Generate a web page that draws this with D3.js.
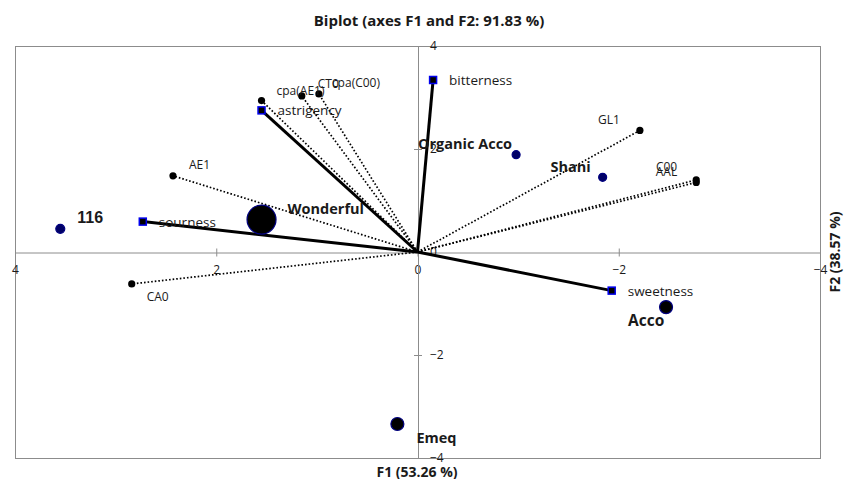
<!DOCTYPE html>
<html>
<head>
<meta charset="utf-8">
<script src="https://cdn.jsdelivr.net/npm/d3@7"></script>
<style>
  html, body { margin: 0; padding: 0; background: #fff; }
  svg { display: block; }
  text { font-family: "Open Sans", "Noto Sans", sans-serif; fill: #1a1a1a; }
</style>
</head>
<body>
<svg id="chart" width="851" height="479"></svg>
<script>
// Biplot of PCA scores: F1 (53.26 %) vs F2 (38.57 %)
const titleText = "Biplot (axes F1 and F2: 91.83 %)";
const xTitle = "F1 (53.26 %)";
const yTitle = "F2 (38.57 %)";
const tickValues = [4, 2, 0, -2, -4];

// Observations (cultivars)
const obsNames = ["116", "Wonderful", "Organic Acco", "Shani", "Acco", "Emeq"];
const obsF1 = [3.55, 1.55, -0.98, -1.84, -2.47, 0.20];
const obsF2 = [0.45, 0.63, 1.89, 1.45, -1.07, -3.34];

// Active variables (sensory attributes)
const varNames = ["bitterness", "astrigency", "sourness", "sweetness"];
const varF1 = [-0.155, 1.55, 2.73, -1.93];
const varF2 = [3.34, 2.75, 0.59, -0.75];

// Supplementary variables
const supNames = ["cpa(AE1)", "CT0", "cpa(C00)", "AE1", "GL1", "C00", "AAL", "CA0"];
const supF1 = [1.55, 1.15, 0.98, 2.43, -2.21, -2.77, -2.77, 2.84];
const supF2 = [2.94, 3.03, 3.07, 1.48, 2.36, 1.40, 1.35, -0.62];

// Marker radii and label placement
const obsStyle = {
  "116":          { r: 4.5, fill: "#000066", size: 16, font: "'Liberation Sans', Arial, sans-serif", dx: 17, dy: -11, anchor: "start" },
  "Wonderful":    { r: 14.5, fill: "#000", size: 14.5, dx: 26, dy: -11, anchor: "start" },
  "Organic Acco": { r: 4, fill: "#000066", size: 14.5, dx: -4, dy: -11, anchor: "end" },
  "Shani":        { r: 4, fill: "#000066", size: 14.5, dx: -12, dy: -11, anchor: "end" },
  "Acco":         { r: 6.5, fill: "#000", size: 15.5, dx: -38, dy: 13, anchor: "start" },
  "Emeq":         { r: 6.5, fill: "#000", size: 14.5, dx: 19, dy: 13, anchor: "start" }
};
const supLabel = {
  "cpa(AE1)": { dx: 15, dy: -10, anchor: "start" },
  "CT0":      { dx: 16, dy: -12, anchor: "start" },
  "cpa(C00)": { dx: 13, dy: -11, anchor: "start" },
  "AE1":      { dx: 16, dy: -11, anchor: "start" },
  "GL1":      { dx: -20, dy: -11, anchor: "end" },
  "C00":      { dx: -19, dy: -13, anchor: "end" },
  "AAL":      { dx: -19, dy: -11, anchor: "end" },
  "CA0":      { dx: 15, dy: 13, anchor: "start" }
};

const svg = d3.select("#chart");
const box = { left: 15, right: 820, top: 46, bottom: 458 };
const x = d3.scaleLinear().domain([4, -4]).range([box.left, box.right]);
const y = d3.scaleLinear().domain([4, -4]).range([box.top, box.bottom]);
const grey = "#8c8c8c";

// Title
svg.append("text")
  .attr("x", 429).attr("y", 20)
  .attr("text-anchor", "middle").attr("dominant-baseline", "central")
  .style("font-weight", "bold").style("font-size", "15px")
  .text(titleText);

// Plot frame
svg.append("rect")
  .attr("x", box.left + 0.5).attr("y", box.top + 0.5)
  .attr("width", box.right - box.left).attr("height", box.bottom - box.top)
  .attr("fill", "none").attr("stroke", grey).attr("stroke-width", 1);

// Axes through the origin
const xAxis = d3.axisBottom(x).tickValues(tickValues).tickSize(4).tickSizeOuter(0).tickFormat(d3.format("d"));
const gx = svg.append("g").attr("transform", `translate(0,${y(0) + 0.5})`).call(xAxis);
gx.select(".domain").attr("stroke", grey);
gx.selectAll(".tick line").attr("stroke", grey).attr("y1", -4).attr("y2", 4);
gx.selectAll(".tick text").attr("y", 13).style("font-size", "12px")
  .style("font-family", "'Open Sans', sans-serif").attr("fill", "#1a1a1a");

const yAxis = d3.axisRight(y).tickValues(tickValues).tickSize(4).tickSizeOuter(0).tickFormat(d3.format("d"));
const gy = svg.append("g").attr("transform", `translate(${x(0) + 0.5},0)`).call(yAxis);
gy.select(".domain").attr("stroke", grey);
gy.selectAll(".tick line").attr("stroke", grey).attr("x1", -4).attr("x2", 4);
gy.selectAll(".tick text").attr("x", 12).style("font-size", "12px")
  .style("font-family", "'Open Sans', sans-serif").attr("fill", "#1a1a1a");

// Axis titles
svg.append("text")
  .attr("x", 417).attr("y", 471)
  .attr("text-anchor", "middle").attr("dominant-baseline", "central")
  .style("font-weight", "bold").style("font-size", "14px")
  .text(xTitle);
svg.append("text")
  .attr("transform", `translate(834,${y(0)}) rotate(-90)`)
  .attr("text-anchor", "middle").attr("dominant-baseline", "central")
  .style("font-weight", "bold").style("font-size", "14px")
  .text(yTitle);

const sup = supNames.map((n, i) => ({ name: n, f1: supF1[i], f2: supF2[i] }));
const vars = varNames.map((n, i) => ({ name: n, f1: varF1[i], f2: varF2[i] }));
const obs = obsNames.map((n, i) => ({ name: n, f1: obsF1[i], f2: obsF2[i] }));

// Supplementary variable vectors (dotted)
svg.append("g").selectAll("line").data(sup).join("line")
  .attr("x1", x(0)).attr("y1", y(0))
  .attr("x2", d => x(d.f1)).attr("y2", d => y(d.f2))
  .attr("stroke", "#000").attr("stroke-width", 1.7)
  .attr("stroke-dasharray", "1.6,2");

// Active variable vectors (solid)
svg.append("g").selectAll("line").data(vars).join("line")
  .attr("x1", x(0)).attr("y1", y(0))
  .attr("x2", d => x(d.f1)).attr("y2", d => y(d.f2))
  .attr("stroke", "#000").attr("stroke-width", 3);

// Supplementary points
svg.append("g").selectAll("circle").data(sup).join("circle")
  .attr("cx", d => x(d.f1)).attr("cy", d => y(d.f2)).attr("r", 3.6)
  .attr("fill", "#000");
svg.append("g").selectAll("text").data(sup).join("text")
  .attr("x", d => x(d.f1) + supLabel[d.name].dx)
  .attr("y", d => y(d.f2) + supLabel[d.name].dy)
  .attr("text-anchor", d => supLabel[d.name].anchor)
  .attr("dominant-baseline", "central")
  .style("font-size", "12px")
  .text(d => d.name);

// Variable markers
svg.append("g").selectAll("rect").data(vars).join("rect")
  .attr("x", d => x(d.f1) - 3.5).attr("y", d => y(d.f2) - 3.5)
  .attr("width", 7).attr("height", 7)
  .attr("fill", "#000").attr("stroke", "#0000ee").attr("stroke-width", 1.5);
svg.append("g").selectAll("text").data(vars).join("text")
  .attr("x", d => x(d.f1) + 16).attr("y", d => y(d.f2))
  .attr("dominant-baseline", "central")
  .style("font-size", "13.5px")
  .text(d => d.name);

// Observations
svg.append("g").selectAll("circle").data(obs).join("circle")
  .attr("cx", d => x(d.f1)).attr("cy", d => y(d.f2))
  .attr("r", d => obsStyle[d.name].r)
  .attr("fill", d => obsStyle[d.name].fill)
  .attr("stroke", "#000080").attr("stroke-width", 1.2);
svg.append("g").selectAll("text").data(obs).join("text")
  .attr("x", d => x(d.f1) + obsStyle[d.name].dx)
  .attr("y", d => y(d.f2) + obsStyle[d.name].dy)
  .attr("text-anchor", d => obsStyle[d.name].anchor)
  .attr("dominant-baseline", "central")
  .style("font-weight", "bold")
  .style("font-size", d => obsStyle[d.name].size + "px")
  .style("font-family", d => obsStyle[d.name].font || null)
  .text(d => d.name);
</script>
</body>
</html>
